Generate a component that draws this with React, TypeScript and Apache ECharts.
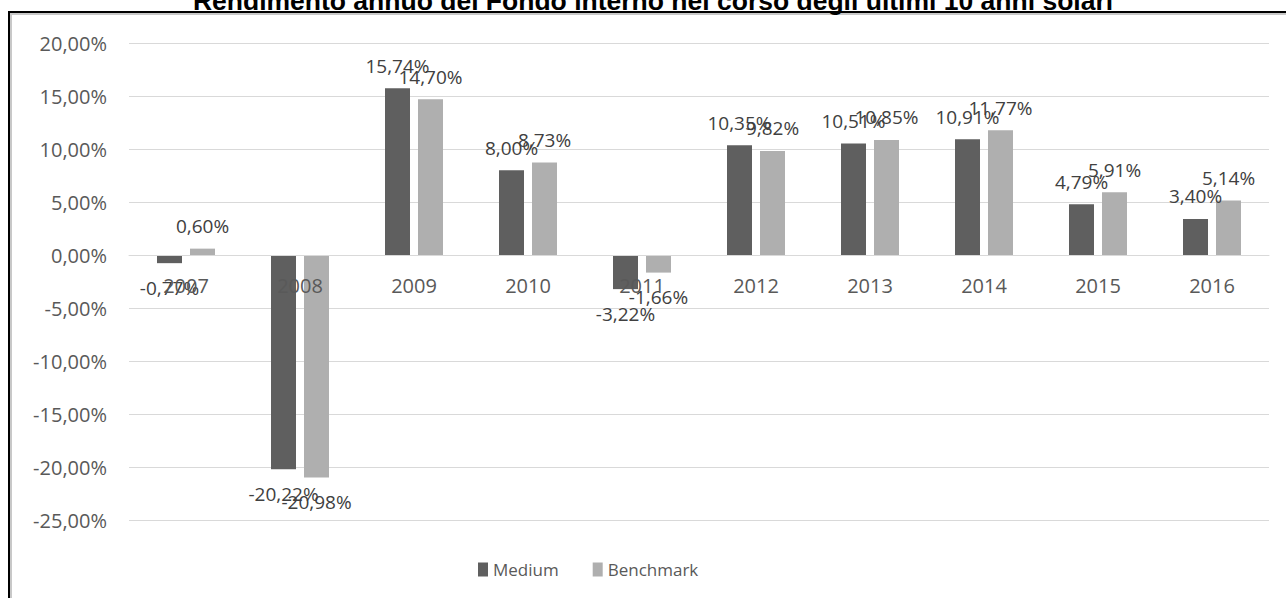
import React, { useEffect, useRef } from "react";
import * as echarts from "echarts";

const years = ["2007", "2008", "2009", "2010", "2011", "2012", "2013", "2014", "2015", "2016"];
const medium = [-0.77, -20.22, 15.74, 8.0, -3.22, 10.35, 10.51, 10.91, 4.79, 3.4];
const benchmark = [0.6, -20.98, 14.7, 8.73, -1.66, 9.82, 10.85, 11.77, 5.91, 5.14];
const seriesNames = ["Medium", "Benchmark"];
const titleText = "Rendimento annuo del Fondo interno nel corso degli ultimi 10 anni solari";

const fmt = (v: number) => v.toFixed(2).replace(".", ",") + "%";

const labelFor = (v: number) =>
  v >= 0
    ? { show: true, position: "top", distance: 13 }
    : { show: true, position: "bottom", distance: 15 };

export default function App() {
  const ref = useRef<HTMLDivElement>(null);
  useEffect(() => {
    if (!ref.current) return;
    const chart = echarts.init(ref.current, null, { renderer: "svg" });
    const font = "Open Sans";
    const mkData = (arr: number[]) => arr.map((v) => ({ value: v, label: labelFor(v) }));
    chart.setOption({
      animation: false,
      backgroundColor: "#ffffff",
      graphic: [
        {
          type: "rect",
          shape: { x: 11, y: 14, width: 1300, height: 620 },
          style: { fill: "none", stroke: "#c8c8c8", lineWidth: 2 },
          silent: true,
        },
        {
          type: "rect",
          shape: { x: 9, y: 12, width: 1300, height: 620 },
          style: { fill: "none", stroke: "#000000", lineWidth: 2 },
          silent: true,
        },
        {
          type: "text",
          x: 653,
          y: 1,
          style: {
            text: titleText,
            font: "bold 26.5px 'Liberation Sans', Arial, sans-serif",
            fill: "#000000",
            align: "center",
            verticalAlign: "middle",
          },
          silent: true,
        },
      ],
      grid: { left: 129, right: 17, top: 43, bottom: 78, containLabel: false },
      legend: {
        data: seriesNames,
        left: 473,
        top: 556,
        icon: "rect",
        itemWidth: 10,
        itemHeight: 14,
        itemGap: 34,
        textStyle: { fontFamily: font, fontSize: 17, color: "#595959" },
      },
      xAxis: {
        type: "category",
        data: years,
        offset: -265,
        axisLine: { show: true, onZero: false, lineStyle: { color: "#d9d9d9", width: 1 } },
        axisTick: { show: false },
        axisLabel: { fontFamily: font, fontSize: 20, color: "#595959", margin: 20 },
        z: 10,
      },
      yAxis: {
        type: "value",
        min: -25,
        max: 20,
        interval: 5,
        axisLine: { show: false },
        axisTick: { show: false },
        splitLine: { lineStyle: { color: "#d9d9d9", width: 1 } },
        axisLabel: {
          fontFamily: font,
          fontSize: 20,
          color: "#595959",
          margin: 22,
          formatter: (v: number) => fmt(v),
        },
      },
      series: [
        {
          name: seriesNames[0],
          type: "bar",
          data: mkData(medium),
          barWidth: 25,
          barGap: "32%",
          itemStyle: { color: "#5f5f5f" },
          label: {
            fontFamily: font,
            fontSize: 19,
            color: "#404040",
            formatter: (p: any) => fmt(p.value),
          },
          z: 3,
        },
        {
          name: seriesNames[1],
          type: "bar",
          data: mkData(benchmark),
          barWidth: 25,
          itemStyle: { color: "#afafaf" },
          label: {
            fontFamily: font,
            fontSize: 19,
            color: "#404040",
            formatter: (p: any) => fmt(p.value),
          },
          z: 3,
        },
      ],
    });
    return () => chart.dispose();
  }, []);
  return (
    <div
      ref={ref}
      style={{ position: "fixed", left: 0, top: 0, width: 1286, height: 598, background: "#fff" }}
    />
  );
}
